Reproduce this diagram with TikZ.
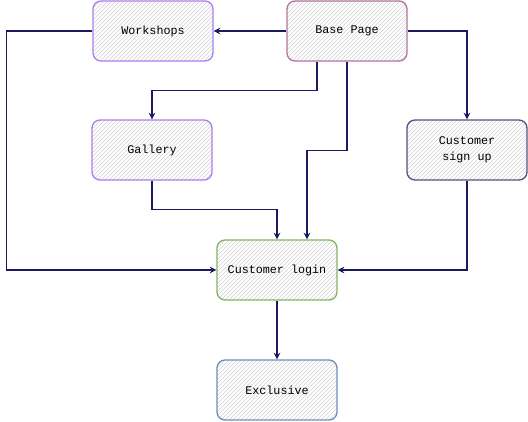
\documentclass[tikz,border=0pt]{standalone}
\usepackage{fontspec}
\setmonofont{Liberation Mono}
\usetikzlibrary{arrows.meta,patterns}
\definecolor{edgeblue}{HTML}{1A1A5E}
\definecolor{wspurple}{HTML}{A680F0}
\definecolor{basepink}{HTML}{B5739D}
\definecolor{signslate}{HTML}{56517E}
\definecolor{logingreen}{HTML}{82B366}
\definecolor{exclblue}{HTML}{6C8EBF}
\tikzset{
  page/.style={draw=#1, line width=1pt, rounded corners=6pt,
    pattern=north east lines, pattern color=gray!35,
    minimum width=90pt, minimum height=45pt, align=center,
    font=\ttfamily\fontsize{8.8pt}{12pt}\selectfont},
  link/.style={draw=edgeblue, line width=0.8pt, -{Stealth[open,length=5pt,width=5pt]}}
}
\begin{document}
\begin{tikzpicture}[x=0.75pt,y=-0.75pt]
\useasboundingbox (0,0) rectangle (528,421);
\node[page=wspurple] (ws) at (153,31) {Workshops};
\node[page=basepink] (base) at (347,31) {Base Page};
\node[page=wspurple] (gal) at (152,150) {Gallery};
\node[page=signslate] (signup) at (467,150) {Customer\\sign up};
\node[page=logingreen] (login) at (277,270) {Customer login};
\node[page=exclblue] (excl) at (277,390) {Exclusive};
\draw[link] (base.west) -- (ws.east);
\draw[link] (ws.west) -- ++(-86,0) |- (login.west);
\draw[link] ([xshift=-22.5pt]base.south) -- ++(0,29) -| (gal.north);
\draw[link] (base.south) -- ++(0,89) -| ([xshift=22.5pt]login.north);
\draw[link] (base.east) -| (signup.north);
\draw[link] (gal.south) -- ++(0,29) -| (login.north);
\draw[link] (signup.south) |- (login.east);
\draw[link] (login.south) -- (excl.north);
\end{tikzpicture}
\end{document}
